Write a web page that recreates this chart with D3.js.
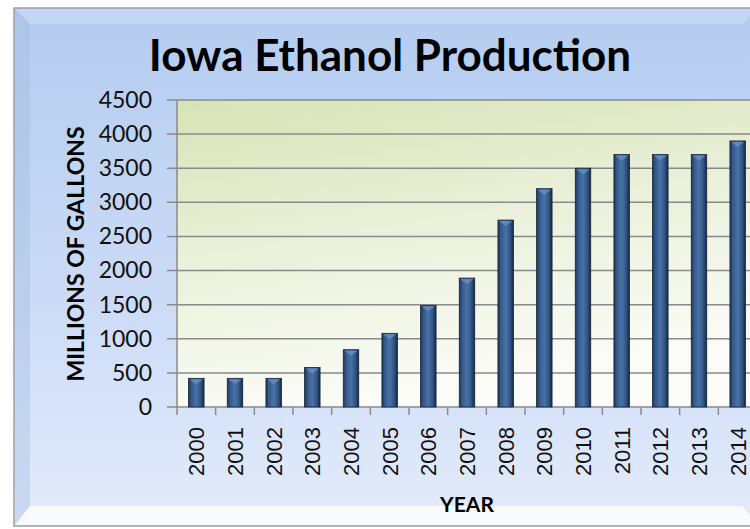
<!DOCTYPE html>
<html lang="en">
<head>
    <meta charset="UTF-8">
    <title>Iowa Ethanol Production</title>
    <script src="https://d3js.org/d3.v7.min.js"></script>
    <style>
        body { margin: 0; background: #ffffff; }
        svg { display: block; }
    </style>
</head>
<body>
    <div id="chart"></div>

    <script>
        // values (millions of gallons)
        const years = ["2000", "2001", "2002", "2003", "2004", "2005", "2006", "2007",
                       "2008", "2009", "2010", "2011", "2012", "2013", "2014"];
        const gallons = [420, 420, 420, 580, 840, 1080, 1490, 1890,
                         2740, 3200, 3500, 3700, 3700, 3700, 3900];
        const yTicks = [0, 500, 1000, 1500, 2000, 2500, 3000, 3500, 4000, 4500];

        const data = years.map((y, i) => ({ year: y, value: gallons[i] }));

        const W = 750, H = 529;
        const plot = { left: 177, top: 100, right: 757, bottom: 407 };

        const svg = d3.select("#chart")
            .append("svg")
            .attr("width", W)
            .attr("height", H);

        const defs = svg.append("defs");

        const bg = defs.append("linearGradient")
            .attr("id", "bg").attr("x1", 0).attr("y1", 0).attr("x2", 0).attr("y2", 1);
        bg.append("stop").attr("offset", "0%").attr("stop-color", "#b4ccf0");
        bg.append("stop").attr("offset", "60%").attr("stop-color", "#cddcf7");
        bg.append("stop").attr("offset", "100%").attr("stop-color", "#e4ecfb");

        const pa = defs.append("linearGradient")
            .attr("id", "plotbg").attr("x1", 0).attr("y1", 0).attr("x2", 0.3).attr("y2", 1);
        pa.append("stop").attr("offset", "0%").attr("stop-color", "#d7e3b6");
        pa.append("stop").attr("offset", "55%").attr("stop-color", "#edf2de");
        pa.append("stop").attr("offset", "100%").attr("stop-color", "#fbfcf7");

        const bar = defs.append("linearGradient")
            .attr("id", "bar").attr("x1", 0).attr("y1", 0).attr("x2", 1).attr("y2", 0);
        bar.append("stop").attr("offset", "0%").attr("stop-color", "#1b3253");
        bar.append("stop").attr("offset", "18%").attr("stop-color", "#35598a");
        bar.append("stop").attr("offset", "50%").attr("stop-color", "#4a72a7");
        bar.append("stop").attr("offset", "80%").attr("stop-color", "#2f5382");
        bar.append("stop").attr("offset", "100%").attr("stop-color", "#132640");

        // outer frame with bevel
        svg.append("rect")
            .attr("x", 14).attr("y", 8)
            .attr("width", 745).attr("height", 518)
            .attr("fill", "url(#bg)")
            .attr("stroke", "#9a9ea6")
            .attr("stroke-width", 1.5);

        const bevel = svg.append("g");
        bevel.append("path")
            .attr("d", "M15,9 L30,24 L30,506 L15,525 Z")
            .attr("fill", "#9fb6dd").attr("opacity", 0.35);
        bevel.append("path")
            .attr("d", "M15,9 L758,9 L742,24 L30,24 Z")
            .attr("fill", "#ffffff").attr("opacity", 0.2);
        bevel.append("path")
            .attr("d", "M15,525 L30,506 L742,506 L758,525 Z")
            .attr("fill", "#ffffff").attr("opacity", 0.75);

        const x = d3.scaleBand()
            .domain(years)
            .range([plot.left, plot.right])
            .paddingInner(0.6)
            .paddingOuter(0.3);

        const xTick = d3.scaleBand()
            .domain(years)
            .range([plot.left, plot.right]);

        const y = d3.scaleLinear()
            .domain([0, 4500])
            .range([plot.bottom, plot.top]);

        // plot area
        svg.append("rect")
            .attr("x", plot.left).attr("y", plot.top)
            .attr("width", plot.right - plot.left)
            .attr("height", plot.bottom - plot.top)
            .attr("fill", "url(#plotbg)");

        // gridlines
        svg.append("g")
            .selectAll("line")
            .data(yTicks)
            .join("line")
            .attr("x1", plot.left - 10)
            .attr("x2", plot.right)
            .attr("y1", d => y(d))
            .attr("y2", d => y(d))
            .attr("stroke", "#8a8a8a")
            .attr("stroke-width", 1.5);

        // y axis
        const yAxis = svg.append("g")
            .attr("transform", `translate(${plot.left - 10},0)`)
            .call(d3.axisLeft(y).tickValues(yTicks).tickFormat(d3.format("d")).tickSize(0).tickPadding(15));
        yAxis.select(".domain").remove();
        yAxis.selectAll("text")
            .attr("font-family", "Lato, 'Open Sans', sans-serif")
            .attr("font-size", 23)
            .attr("fill", "#111");

        svg.append("line")
            .attr("x1", plot.left).attr("x2", plot.left)
            .attr("y1", plot.top).attr("y2", plot.bottom + 8)
            .attr("stroke", "#8a8a8a").attr("stroke-width", 1.5);

        // x axis ticks (between categories)
        svg.append("g")
            .selectAll("line")
            .data(years.slice(1))
            .join("line")
            .attr("x1", d => xTick(d))
            .attr("x2", d => xTick(d))
            .attr("y1", plot.bottom)
            .attr("y2", plot.bottom + 8)
            .attr("stroke", "#8a8a8a")
            .attr("stroke-width", 1.5);

        // bars
        const bars = svg.append("g")
            .selectAll("g")
            .data(data)
            .join("g");

        bars.append("rect")
            .attr("x", d => x(d.year))
            .attr("y", d => y(d.value))
            .attr("width", x.bandwidth())
            .attr("height", d => y(0) - y(d.value))
            .attr("fill", "url(#bar)")
            .attr("stroke", "#15243a")
            .attr("stroke-width", 0.8);

        // little bevel on the bar tops
        bars.append("path")
            .attr("d", d => {
                const x0 = x(d.year), w = x.bandwidth(), t = y(d.value);
                return `M${x0 + 1},${t + 1} L${x0 + w - 1},${t + 1} L${x0 + w / 2},${t + 6} Z`;
            })
            .attr("fill", "#6a8fc0")
            .attr("opacity", 0.8);

        // x labels, rotated
        svg.append("g")
            .selectAll("text")
            .data(years)
            .join("text")
            .attr("transform", d => `translate(${xTick(d) + xTick.bandwidth() / 2 + 8},${plot.bottom + 20}) rotate(-90)`)
            .attr("text-anchor", "end")
            .attr("font-family", "'Liberation Sans', Arial, sans-serif")
            .attr("font-size", 22)
            .attr("fill", "#111")
            .text(d => d);

        // titles
        svg.append("text")
            .attr("x", 390).attr("y", 71)
            .attr("text-anchor", "middle")
            .attr("font-family", "Lato, 'Open Sans', sans-serif")
            .attr("font-weight", "bold")
            .attr("font-size", 44)
            .attr("fill", "#000")
            .text("Iowa Ethanol Production");

        svg.append("text")
            .attr("transform", "translate(84,254) rotate(-90)")
            .attr("text-anchor", "middle")
            .attr("font-family", "Lato, 'Open Sans', sans-serif")
            .attr("font-weight", "bold")
            .attr("font-size", 23)
            .attr("fill", "#000")
            .text("MILLIONS OF GALLONS");

        svg.append("text")
            .attr("x", 467).attr("y", 512)
            .attr("text-anchor", "middle")
            .attr("font-family", "Lato, 'Open Sans', sans-serif")
            .attr("font-weight", "bold")
            .attr("font-size", 21)
            .attr("fill", "#000")
            .text("YEAR");
    </script>
</body>
</html>
